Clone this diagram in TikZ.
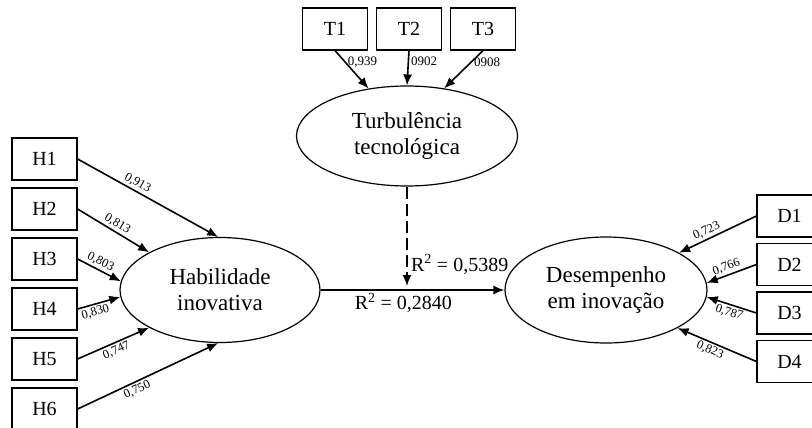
\documentclass[tikz,border=0pt]{standalone}
\usepackage{fontspec}
\setmainfont{Liberation Serif}
\usetikzlibrary{arrows.meta,shapes.geometric}

\begin{document}
\begin{tikzpicture}
	[x=1pt,y=-1pt,->,>={Latex[length=11pt,width=9pt]},line width=1.6pt,node distance=50pt,
		item/.style={rectangle,draw,line width=1.2pt,minimum width=65pt,minimum height=42pt,font=\fontsize{20}{20}\selectfont},
		construct/.style={ellipse,draw,line width=1.2pt,align=center,font=\fontsize{23}{26}\selectfont},
		coef/.style={sloped,font=\fontsize{12.5}{12.5}\selectfont,inner sep=2pt},
		tcoef/.style={font=\fontsize{13}{13}\selectfont,inner sep=2pt},
		rlabel/.style={font=\fontsize{20}{20}\selectfont}]

	\clip (0,0) rectangle (812,428);

	% constructs
	\node[construct,minimum width=200pt,minimum height=105pt] (hab)  at (220,290) {Habilidade\\inovativa};
	\node[construct,minimum width=221pt,minimum height=100pt] (turb) at (407,136) {Turbulência\\tecnológica};
	\node[construct,minimum width=202pt,minimum height=106pt] (des)  at (606,290) {Desempenho\\em inovação};

	% indicators
	\node[item] (H1) at (44.5,159) {H1};
	\node[item] [below of=H1] (H2) {H2};
	\node[item] [below of=H2] (H3) {H3};
	\node[item] [below of=H3] (H4) {H4};
	\node[item] [below of=H4] (H5) {H5};
	\node[item] [below of=H5] (H6) {H6};

	\node[item] (T1) at (335,29) {T1};
	\node[item] [right of=T1, node distance=74pt] (T2) {T2};
	\node[item] [right of=T2, node distance=74pt] (T3) {T3};

	\node[item] (D1) at (789.5,216) {D1};
	\node[item] [below of=D1, node distance=48.5pt] (D2) {D2};
	\node[item] [below of=D2, node distance=48.5pt] (D3) {D3};
	\node[item] [below of=D3, node distance=48.5pt] (D4) {D4};

	\coordinate (m) at (turb.south |- hab.east);

	\path
	(H1.east) edge node[coef,above,pos=0.4]  {0,913} (hab.92)
	(H2.east) edge node[coef,above,pos=0.5]  {0,813} (hab.152)
	(H3.east) edge node[coef,above,pos=0.45] {0,803} (hab.175)
	(H4.east) edge node[coef,below,pos=0.37] {0,830} (hab.184)
	(H5.east) edge node[coef,below,pos=0.5]  {0,747} (hab.208)
	(H6.east) edge node[coef,below,pos=0.4]  {0,750} (hab.268)

	(T1.south) edge node[tcoef,right,pos=0.3] {0,939} (turb.129)
	(T2.south) edge node[tcoef,right,pos=0.3] {0902}  (turb.north)
	(T3.south) edge node[tcoef,right,pos=0.3] {0908}  (turb.52)

	(D1.west) edge node[coef,above,pos=0.6]  {0,723} (des.27)
	(D2.west) edge node[coef,above,pos=0.55] {0,766} (des.4)
	(D3.west) edge node[coef,below,pos=0.5]  {0,787} (des.-4)
	(D4.west) edge node[coef,below,pos=0.55] {0,823} (des.-28)

	(turb.south) edge[dash pattern=on 12pt off 5pt,shorten >=4pt]
		node[rlabel,right,pos=0.75] {R\textsuperscript{2} = 0,5389} (m)
	(hab.east) edge node[rlabel,below,pos=0.45,inner sep=2pt] {R\textsuperscript{2} = 0,2840} (des.west)
	;

\end{tikzpicture}
\end{document}
